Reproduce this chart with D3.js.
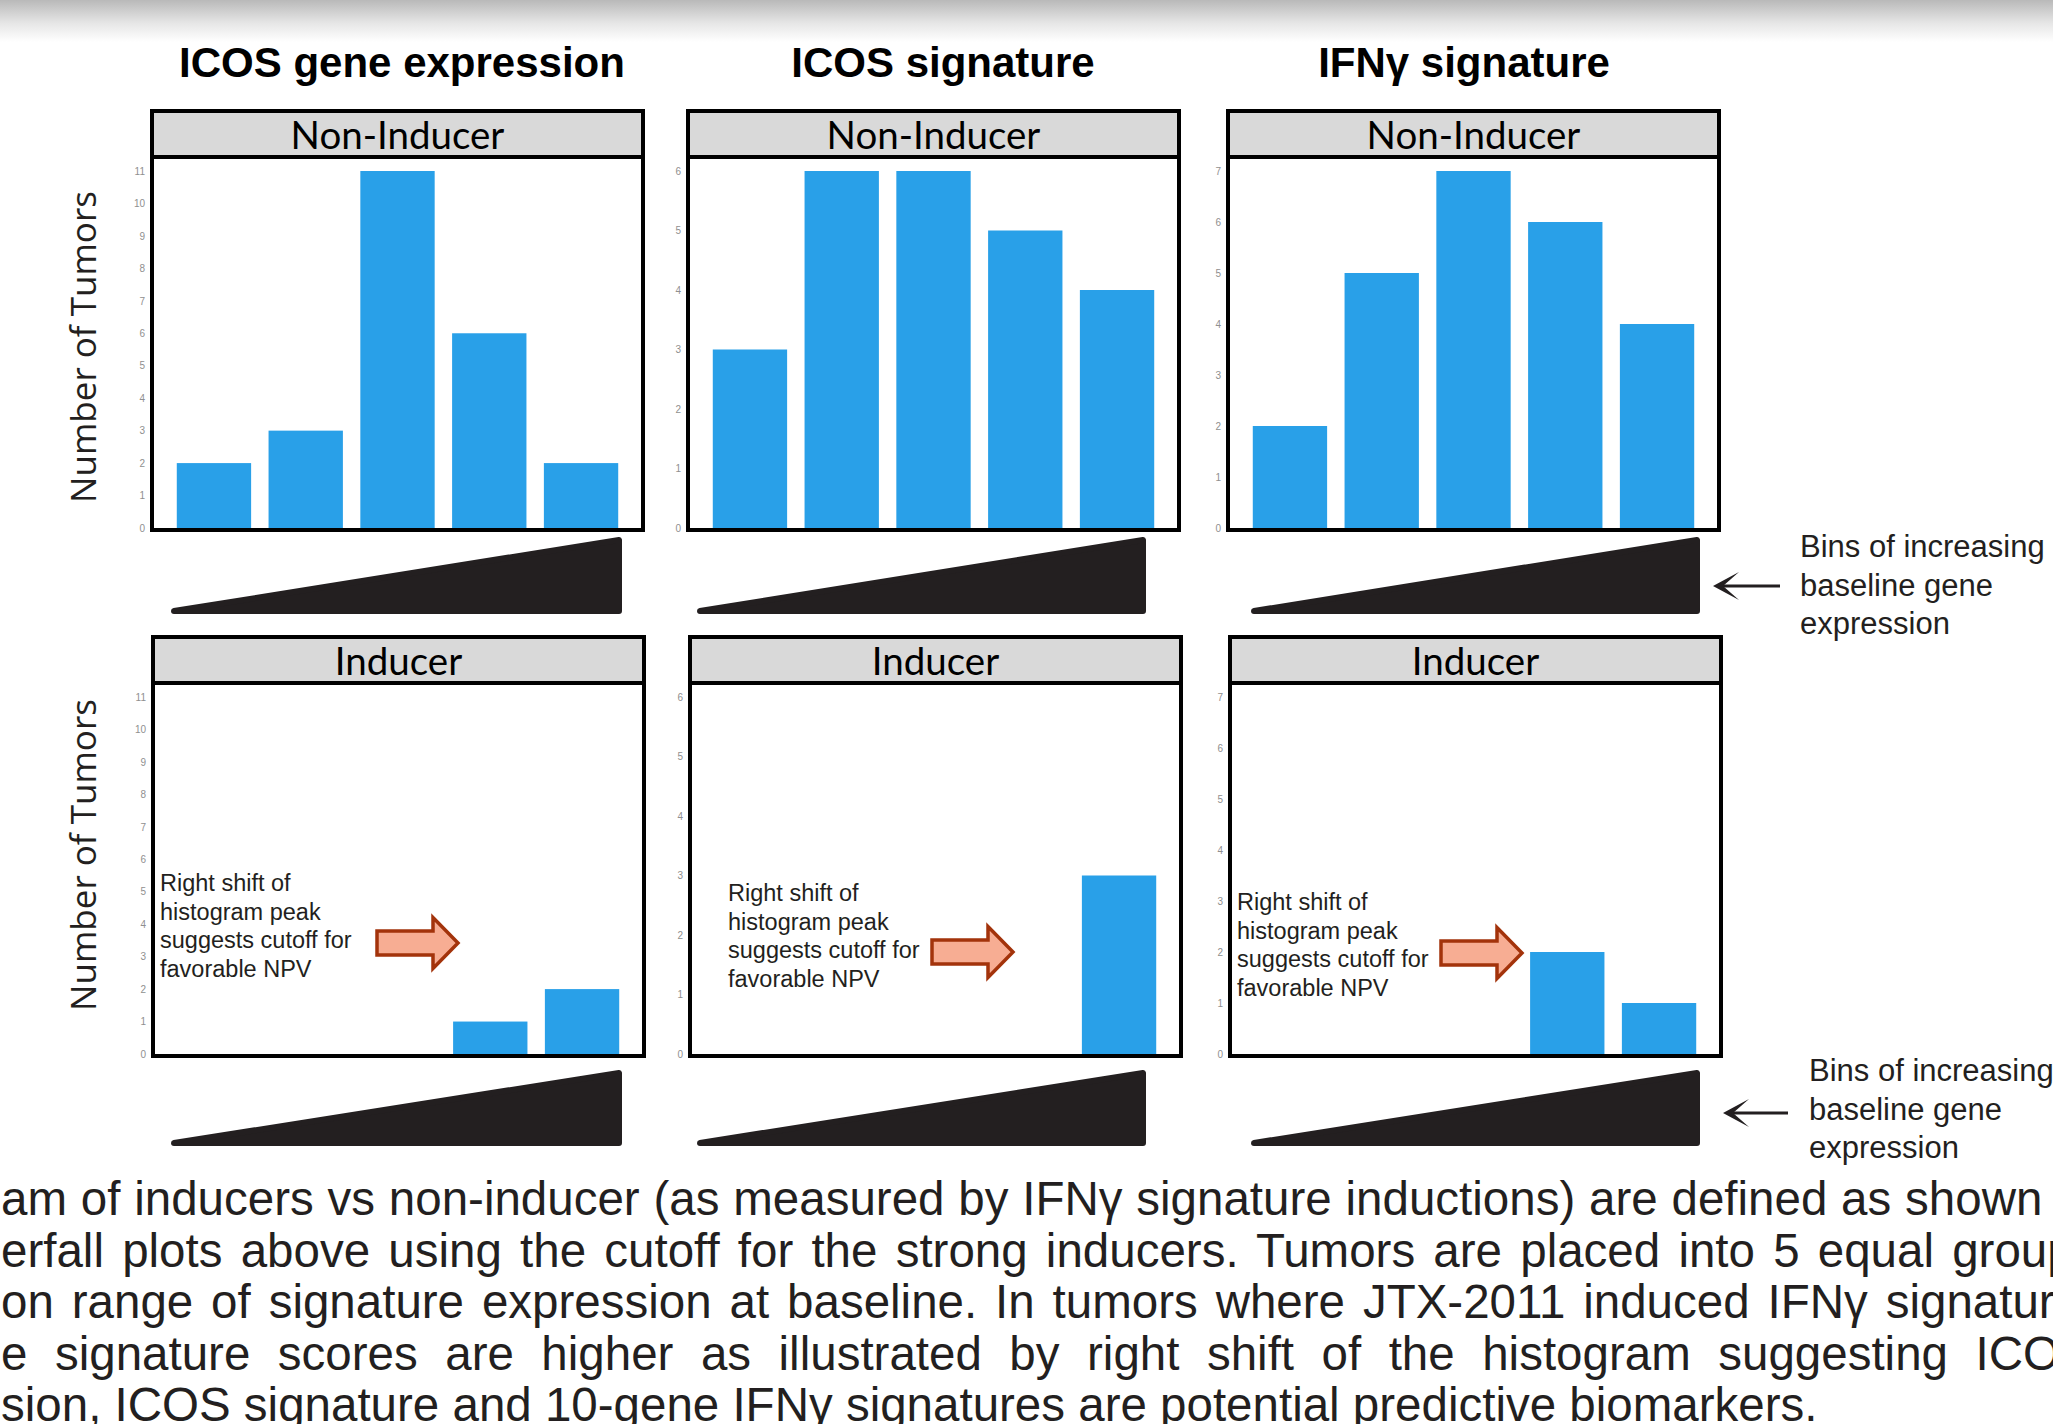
<!DOCTYPE html>
<html>
<head>
<meta charset="utf-8">
<script src="https://cdn.jsdelivr.net/npm/d3@7"></script>
<style>
  html, body { margin: 0; padding: 0; background: #fff; overflow: hidden; }
  svg { display: block; }
</style>
</head>
<body>
<svg id="chart" width="2053" height="1424"></svg>
<script>
// ---- data ----
const measures = ["ICOS gene expression", "ICOS signature", "IFNγ signature"];
const groups = ["Non-Inducer", "Inducer"];
const bins = ["bin1", "bin2", "bin3", "bin4", "bin5"];
const yMaxes = [11, 6, 7];
const nonInducerCounts = [[2, 3, 11, 6, 2], [3, 6, 6, 5, 4], [2, 5, 7, 6, 4]];
const inducerCounts = [[0, 0, 0, 1, 2], [0, 0, 0, 0, 3], [0, 0, 0, 2, 1]];
const yLabel = "Number of Tumors";
const noteLines = ["Right shift of", "histogram peak", "suggests cutoff for", "favorable NPV"];
const binNote = ["Bins of increasing", "baseline gene", "expression"];
const captionLines = [
    "am of inducers vs non-inducer (as measured by IFNγ signature inductions) are defined as shown",
    "erfall plots above using the cutoff for the strong inducers. Tumors are placed into 5 equal groups",
    "on range of signature expression at baseline. In tumors where JTX-2011 induced IFNγ signature",
    "e signature scores are higher as illustrated by right shift of the histogram suggesting ICOS",
    "sion, ICOS signature and 10-gene IFNγ signatures are potential predictive biomarkers."
];

// ---- layout ----
const W = 2053, H = 1424;
const panelW = 491, stripH = 46, plotH = 373;
const rowTops = [111, 637];
const panelLefts = [[152, 688, 1228], [153, 690, 1230]];
const titleX = [402, 943, 1464];
const yLabelY = [347, 855];
const wedgeX = [[171, 622], [697, 1146], [1251, 1700]];
const wedgeY = [[537, 614], [1070, 1146]];
const noteX = [160, 728, 1237];
const noteBase = [891, 901, 910];
const orangeArrow = [[377, 943], [932, 952], [1441, 953]];
const sideArrow = [[1713, 1780, 586], [1723, 1788, 1113]];
const sideText = [[1800, 557], [1809, 1081]];
const captionBase = 1215, captionStep = 51.5;
const captionWordSpacing = [0.6, 5, 4.7, 14.3, 0];

const ink = "#231f20";
const barColor = "#29a0e8";

const svg = d3.select("#chart");

svg.append("defs").html(`
  <linearGradient id="topShade" x1="0" y1="0" x2="0" y2="1">
    <stop offset="0" stop-color="#b9b9b9"/>
    <stop offset="0.55" stop-color="#e6e6e6"/>
    <stop offset="1" stop-color="#ffffff"/>
  </linearGradient>
`);

svg.append("rect").attr("width", W).attr("height", H).attr("fill", "#fff");
svg.append("rect").attr("width", W).attr("height", 42).attr("fill", "url(#topShade)");

// column titles
svg.selectAll("text.title")
    .data(measures)
    .enter()
    .append("text")
    .attr("class", "title")
    .attr("x", (d, i) => titleX[i])
    .attr("y", 77)
    .attr("text-anchor", "middle")
    .attr("font-family", "Liberation Sans, Arial, sans-serif")
    .attr("font-weight", "bold")
    .attr("font-size", 42)
    .attr("fill", "#000")
    .text(d => d);

// y labels
yLabelY.forEach(cy => {
    svg.append("text")
        .attr("transform", `translate(96,${cy}) rotate(-90)`)
        .attr("text-anchor", "middle")
        .attr("font-family", "Open Sans, sans-serif")
        .attr("font-size", 35)
        .attr("fill", ink)
        .text(yLabel);
});

function drawPanel(r, c) {
    const left = panelLefts[r][c];
    const stripTop = rowTops[r];
    const plotTop = stripTop + stripH;
    const plotBottom = plotTop + plotH;
    const counts = r === 0 ? nonInducerCounts[c] : inducerCounts[c];

    const x = d3.scaleBand().domain(bins).range([left, left + panelW])
        .paddingInner(0.19).paddingOuter(0.27);
    const y = d3.scaleLinear().domain([0, yMaxes[c]]).range([plotBottom - 2, plotTop + 14]);

    const g = svg.append("g");

    g.append("rect")
        .attr("x", left).attr("y", plotTop)
        .attr("width", panelW).attr("height", plotH)
        .attr("fill", "#fff");

    // bars
    g.selectAll("rect.bar")
        .data(counts.map((v, i) => ({ bin: bins[i], v })).filter(d => d.v > 0))
        .enter()
        .append("rect")
        .attr("class", "bar")
        .attr("x", d => x(d.bin))
        .attr("width", x.bandwidth())
        .attr("y", d => y(d.v))
        .attr("height", d => y(0) - y(d.v))
        .attr("fill", barColor);

    // y axis ticks (tiny gray numbers)
    const axis = g.append("g")
        .attr("transform", `translate(${left - 5},0)`)
        .call(d3.axisLeft(y).tickValues(d3.range(0, yMaxes[c] + 1)).tickSize(0).tickPadding(2).tickFormat(d3.format("d")));
    axis.select(".domain").remove();
    axis.selectAll("text")
        .attr("font-family", "Liberation Sans, Arial, sans-serif")
        .attr("font-size", 10)
        .attr("fill", "#8f8f8f");

    // frame
    g.append("rect")
        .attr("x", left).attr("y", plotTop)
        .attr("width", panelW).attr("height", plotH)
        .attr("fill", "none")
        .attr("stroke", "#000")
        .attr("stroke-width", 4);

    // strip
    g.append("rect")
        .attr("x", left).attr("y", stripTop)
        .attr("width", panelW).attr("height", stripH)
        .attr("fill", "#d9d9d9")
        .attr("stroke", "#000")
        .attr("stroke-width", 4);
    g.append("text")
        .attr("x", left + panelW / 2)
        .attr("y", stripTop + 38)
        .attr("text-anchor", "middle")
        .attr("font-family", "Lato, sans-serif")
        .attr("font-size", 38.5)
        .attr("fill", "#000")
        .text(groups[r]);

    // wedge showing increasing baseline expression
    const [wx0, wx1] = wedgeX[c];
    const [wy0, wy1] = wedgeY[r];
    g.append("path")
        .attr("d", `M${wx0 + 3},${wy1 - 3} L${wx1 - 3},${wy0 + 3} L${wx1 - 3},${wy1 - 3} Z`)
        .attr("fill", ink)
        .attr("stroke", ink)
        .attr("stroke-width", 6)
        .attr("stroke-linejoin", "round");

    // annotations for the inducer row
    if (r === 1) {
        g.selectAll("text.note")
            .data(noteLines)
            .enter()
            .append("text")
            .attr("class", "note")
            .attr("x", noteX[c])
            .attr("y", (d, i) => noteBase[c] + i * 28.7)
            .attr("font-family", "Liberation Sans, Arial, sans-serif")
            .attr("font-size", 23.5)
            .attr("fill", ink)
            .text(d => d);

        const [ax, ay] = orangeArrow[c];
        g.append("path")
            .attr("d", `M${ax},${ay - 12} L${ax + 56},${ay - 12} L${ax + 56},${ay - 25.5} L${ax + 81},${ay} L${ax + 56},${ay + 25.5} L${ax + 56},${ay + 12} L${ax},${ay + 12} Z`)
            .attr("fill", "#f7ad93")
            .attr("stroke", "#a3330b")
            .attr("stroke-width", 3.5)
            .attr("stroke-linejoin", "miter");
    }
}

for (let r = 0; r < 2; r++) {
    for (let c = 0; c < 3; c++) drawPanel(r, c);
}

// side arrows + notes
sideArrow.forEach(([tip, tail, ay], i) => {
    svg.append("line")
        .attr("x1", tip + 8).attr("x2", tail)
        .attr("y1", ay).attr("y2", ay)
        .attr("stroke", ink).attr("stroke-width", 3);
    svg.append("path")
        .attr("d", `M${tip},${ay} L${tip + 26},${ay - 14} L${tip + 10},${ay} L${tip + 26},${ay + 14} Z`)
        .attr("fill", ink);

    const [tx, ty] = sideText[i];
    svg.selectAll(null)
        .data(binNote)
        .enter()
        .append("text")
        .attr("x", tx)
        .attr("y", (d, j) => ty + j * 38.6)
        .attr("font-family", "Liberation Sans, Arial, sans-serif")
        .attr("font-size", 31)
        .attr("fill", ink)
        .text(d => d);
});

// caption (cut off on both sides, as in the source)
svg.selectAll("text.caption")
    .data(captionLines)
    .enter()
    .append("text")
    .attr("class", "caption")
    .attr("x", 1)
    .attr("y", (d, i) => captionBase + i * captionStep)
    .attr("font-family", "Liberation Sans, Arial, sans-serif")
    .attr("font-size", 47.5)
    .attr("word-spacing", (d, i) => captionWordSpacing[i])
    .attr("fill", ink)
    .text(d => d);
</script>
</body>
</html>
